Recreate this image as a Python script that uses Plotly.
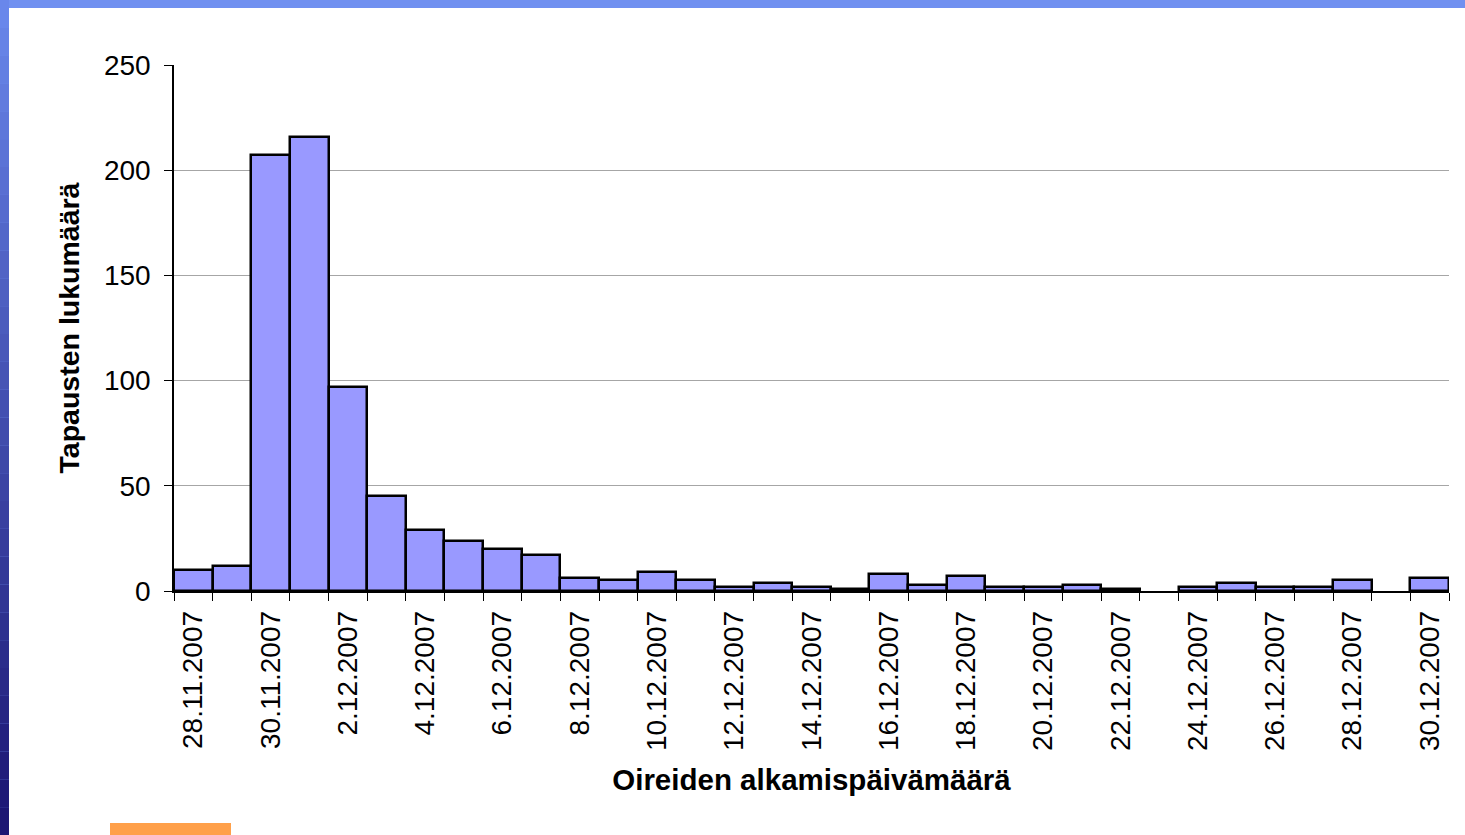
import plotly.graph_objects as go

days = ["28.11.2007", "29.11.2007", "30.11.2007"] + [f"{d}.12.2007" for d in range(1, 31)]
cases = [10, 12, 207, 216, 97, 45, 29, 24, 20, 17, 6, 5, 9, 5, 2, 4, 2, 1, 8, 3, 7,
         2, 2, 3, 1, 0, 2, 4, 2, 2, 5, 0, 6]
y_ticks = [0, 50, 100, 150, 200, 250]

x_idx = list(range(len(days)))
label_idx = x_idx[::2]
label_txt = days[::2]

W, H = 1465, 835
L, R, T, B = 174, 16, 65, 244
PW, PH = W - L - R, H - T - B

def px_x(x):
    return (x - L) / PW

def px_y(y):
    return (H - B - y) / PH

font_family = "Liberation Sans, Arial, sans-serif"

fig = go.Figure()
fig.add_trace(go.Bar(
    x=x_idx, y=cases,
    marker=dict(color="#9999ff",
                line=dict(color="black", width=[0 if v == 0 else 2.5 for v in cases])),
    width=1.0,
))

shapes = []
# white slide panel
shapes.append(dict(type="rect", xref="paper", yref="paper",
                   x0=px_x(9), x1=px_x(W), y0=px_y(H), y1=px_y(8),
                   fillcolor="white", line=dict(width=0), layer="below"))
# left gradient strip
n = 30
for i in range(n):
    t = i / (n - 1)
    r = int(105 + (28 - 105) * t)
    g = int(135 + (22 - 135) * t)
    b = int(235 + (115 - 235) * t)
    y_top = i * H / n
    y_bot = (i + 1) * H / n
    shapes.append(dict(type="rect", xref="paper", yref="paper",
                       x0=px_x(0), x1=px_x(9), y0=px_y(y_bot), y1=px_y(y_top),
                       fillcolor=f"rgb({r},{g},{b})", line=dict(width=0), layer="below"))
# orange decoration
shapes.append(dict(type="rect", xref="paper", yref="paper",
                   x0=px_x(110), x1=px_x(231), y0=px_y(H), y1=px_y(823),
                   fillcolor="#ffa04a", line=dict(width=0), layer="below"))

fig.update_layout(
    width=W, height=H,
    margin=dict(l=L, r=R, t=T, b=B),
    paper_bgcolor="#7090f0",
    plot_bgcolor="white",
    showlegend=False,
    bargap=0,
    font=dict(family=font_family, color="black", size=28),
    shapes=shapes,
    xaxis=dict(
        range=[-0.5, len(days) - 0.5],
        tickmode="array", tickvals=label_idx, ticktext=label_txt,
        tickangle=-90, tickfont=dict(size=28),
        ticks="outside", ticklen=0, tickcolor="black",
        ticklabelstandoff=7,
        minor=dict(tick0=0.5, dtick=1, ticks="outside", ticklen=8, tickcolor="black",
                   showgrid=False),
        showline=True, linecolor="black", linewidth=1.5,
        showgrid=False, zeroline=False,
        title=dict(text="<b>Oireiden alkamispäivämäärä</b>", font=dict(size=29.5), standoff=19),
    ),
    yaxis=dict(
        range=[0, 250],
        tickmode="array", tickvals=y_ticks,
        ticks="outside", ticklen=8, tickcolor="black",
        tickfont=dict(size=28),
        ticklabelstandoff=8,
        showline=True, linecolor="black", linewidth=1.5,
        showgrid=True, gridcolor="#a6a6a6", gridwidth=1,
        zeroline=False,
        title=dict(text="<b>Tapausten lukumäärä</b>", font=dict(size=28.5), standoff=16),
    ),
)

fig.write_html("out.html", config={"displayModeBar": False},
               post_script="document.body.style.margin='0';document.body.style.padding='0';")
